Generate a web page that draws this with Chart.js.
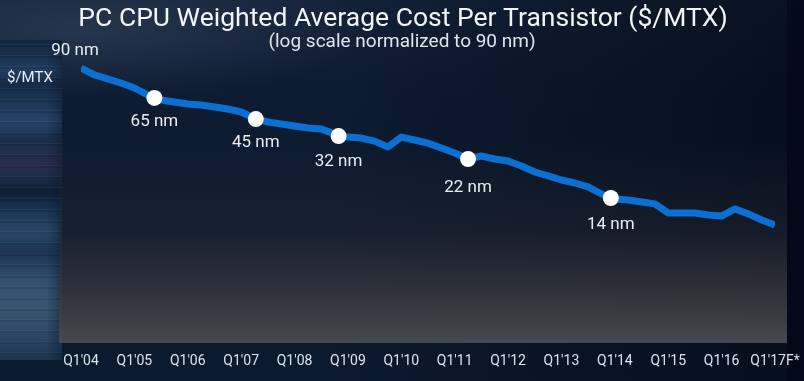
<!DOCTYPE html>
<html>
<head>
<meta charset="utf-8">
<script src="https://cdn.jsdelivr.net/npm/chart.js@4.4.1/dist/chart.umd.min.js"></script>
<style>
  html, body { margin: 0; padding: 0; background: #0a1a30; }
  #wrap { position: relative; width: 804px; height: 381px; overflow: hidden;
    background:
      radial-gradient(ellipse 300px 70px at 80px 30px, rgba(90,110,135,0.28), rgba(0,0,0,0) 100%),
      linear-gradient(90deg, rgba(0,0,0,0) 40%, rgba(0,4,14,0.55) 100%),
      linear-gradient(180deg, #132238 0%, #0e1c31 22%, #0b1a30 60%, #0b1b2e 100%); }
  .layer { position: absolute; }
  #streaks { left: 0; top: 40px; width: 62px; height: 320px;
    background:
      repeating-linear-gradient(180deg, rgba(255,255,255,0.00) 0 4px, rgba(120,160,200,0.07) 4px 5px, rgba(0,0,0,0.10) 5px 7px, rgba(255,255,255,0.00) 7px 11px),
      linear-gradient(90deg, rgba(11,26,48,0) 0%, rgba(11,26,48,0) 75%, rgba(11,26,48,0.5) 100%),
      linear-gradient(180deg, #142640 0px, #1b3150 18px, #243e60 30px, #172a48 44px, #1d3556 62px, #28446a 82px, #1b2e4a 100px, #2a2c4c 126px, #1c2c46 138px, #101e34 152px, #1c3656 172px, #284868 192px, #1d3452 212px, #324f6e 240px, #39566f 268px, #2e4966 292px, #1f3552 320px); }
  #panel { left: 59px; top: 140px; width: 728px; height: 203px;
    background: linear-gradient(180deg, rgba(40,42,48,0) 0%, rgba(34,38,46,0.55) 45%, rgba(52,55,61,0.85) 75%, rgba(72,74,80,0.97) 100%); }
  #rightedge { left: 787px; top: 0; width: 17px; height: 381px; background: rgba(2,6,20,0.55); }
  canvas { position: absolute; left: 0; top: 0; }
</style>
</head>
<body>
<div id="wrap">
  <div class="layer" id="streaks"></div>
  <div class="layer" id="panel"></div>
  <div class="layer" id="rightedge"></div>
  <canvas id="c" width="804" height="381"></canvas>
</div>
<script>
// ---- data ----
const quarters = ["Q1'04","Q2'04","Q3'04","Q4'04","Q1'05","Q2'05","Q3'05","Q4'05",
  "Q1'06","Q2'06","Q3'06","Q4'06","Q1'07","Q2'07","Q3'07","Q4'07",
  "Q1'08","Q2'08","Q3'08","Q4'08","Q1'09","Q2'09","Q3'09","Q4'09",
  "Q1'10","Q2'10","Q3'10","Q4'10","Q1'11","Q2'11","Q3'11","Q4'11",
  "Q1'12","Q2'12","Q3'12","Q4'12","Q1'13","Q2'13","Q3'13","Q4'13",
  "Q1'14","Q2'14","Q3'14","Q4'14","Q1'15","Q2'15","Q3'15","Q4'15",
  "Q1'16","Q2'16","Q3'16","Q4'16","Q1'17"];
const tickLabels = ["Q1'04","Q1'05","Q1'06","Q1'07","Q1'08","Q1'09","Q1'10",
  "Q1'11","Q1'12","Q1'13","Q1'14","Q1'15","Q1'16","Q1'17F*"];
// normalized $/MTX (90 nm = 1), log scale
const costPerTransistor = [1.000,0.818,0.729,0.649,0.562,0.460,0.398,0.376,
  0.355,0.345,0.326,0.307,0.282,0.237,0.211,0.200,
  0.188,0.178,0.173,0.150,0.137,0.133,0.122,0.103,
  0.137,0.126,0.115,0.100,0.0866,0.0729,0.0794,0.0729,
  0.0688,0.0596,0.0501,0.0447,0.0398,0.0365,0.0326,0.0266,
  0.0230,0.0224,0.0211,0.0200,0.0154,0.0154,0.0154,0.0145,
  0.0141,0.0173,0.0150,0.0126,0.0109];
const nodeNames = ["90 nm","65 nm","45 nm","32 nm","22 nm","14 nm"];
const nodeQuarter = [0, 5.5, 13.1, 19.3, 29.0, 39.7];
const nodeCost = [1.000, 0.422, 0.230, 0.141, 0.0729, 0.0237];
const titleText = "PC CPU Weighted Average Cost Per Transistor ($/MTX)";
const subtitleText = "(log scale normalized to 90 nm)";
const yAxisLabel = "$/MTX";

// ---- drawing ----
const FONT = "Roboto, 'Noto Sans', sans-serif";
const labelOffsets = [[-6,-17],[0,24],[0,24],[0,26],[0,29],[0,27]];

const textPlugin = {
  id: 'texts',
  afterDatasetsDraw(chart) {
    const ctx = chart.ctx;
    const xs = chart.scales.x, ys = chart.scales.y;
    ctx.save();
    ctx.textAlign = 'center';
    ctx.textBaseline = 'middle';
    ctx.fillStyle = '#e9eef3';
    ctx.font = "17px " + FONT;
    nodeNames.forEach((n, i) => {
      const px = xs.getPixelForValue(nodeQuarter[i]) + labelOffsets[i][0];
      const py = ys.getPixelForValue(nodeCost[i]) + labelOffsets[i][1];
      ctx.fillText(n, px, py);
    });
    ctx.textAlign = 'left';
    ctx.font = "15px " + FONT;
    ctx.fillText(yAxisLabel, 7, 78);
    ctx.textAlign = 'center';
    ctx.textBaseline = 'alphabetic';
    ctx.fillStyle = '#f2f5f8';
    ctx.font = "26.5px " + FONT;
    ctx.fillText(titleText, 403, 26);
    ctx.fillStyle = '#dfe5ec';
    ctx.font = "19px " + FONT;
    ctx.fillText(subtitleText, 402, 47);
    ctx.restore();
  }
};

new Chart(document.getElementById('c'), {
  type: 'line',
  data: {
    datasets: [
      {
        label: 'Process nodes',
        data: nodeQuarter.map((q, i) => ({ x: q, y: nodeCost[i] })),
        showLine: false,
        pointRadius: nodeNames.map((n, i) => i === 0 ? 0 : 8),
        pointBackgroundColor: '#ffffff',
        pointBorderWidth: 0,
        pointHoverRadius: 8
      },
      {
        label: 'Cost per transistor',
        data: costPerTransistor.map((c, i) => ({ x: i, y: c, q: quarters[i] })),
        borderColor: '#0b70d2',
        borderWidth: 7,
        borderJoinStyle: 'round',
        pointRadius: 0,
        tension: 0,
        fill: false
      }
    ]
  },
  plugins: [textPlugin],
  options: {
    responsive: false,
    animation: false,
    layout: { padding: { left: 81, right: 29, top: 30, bottom: 0 } },
    plugins: { legend: { display: false }, tooltip: { enabled: false }, title: { display: false } },
    scales: {
      x: {
        type: 'linear', min: 0, max: 52,
        grid: { display: false, drawTicks: false },
        border: { display: false },
        afterFit: (s) => { s.height = 38; s.paddingLeft = 0; s.paddingRight = 0; },
        ticks: {
          stepSize: 4, autoSkip: false, maxRotation: 0, padding: 10,
          color: '#dde3ea', font: { family: FONT, size: 14 },
          callback: (v) => tickLabels[v / 4] ?? ''
        }
      },
      y: {
        type: 'logarithmic', display: false, bounds: 'data',
        min: 0.000365, max: 2.985
      }
    }
  }
});
</script>
</body>
</html>
